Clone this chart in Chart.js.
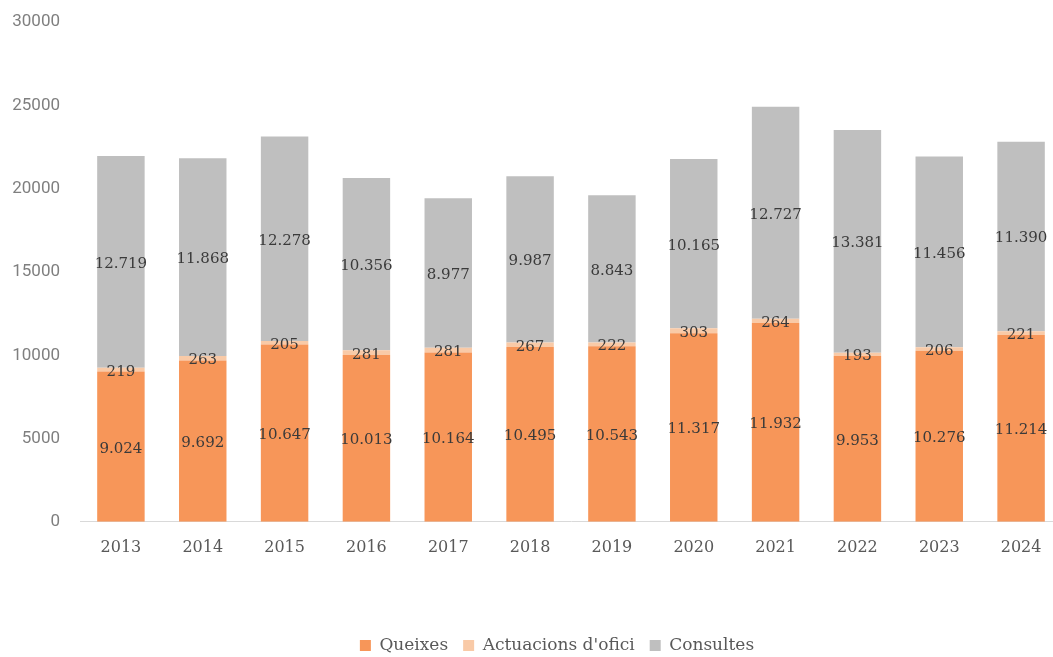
<!DOCTYPE html>
<html>
<head>
<meta charset="utf-8">
<script src="https://cdn.jsdelivr.net/npm/chart.js@4/dist/chart.umd.min.js"></script>
<style>
  html, body { margin: 0; padding: 0; background: #fff; overflow: hidden; }
  #wrap { width: 1062px; height: 665px; margin-top: -8px; }
</style>
</head>
<body>
<div id="wrap"><canvas id="chart"></canvas></div>
<script>
const years = ['2013', '2014', '2015', '2016', '2017', '2018', '2019', '2020', '2021', '2022', '2023', '2024'];
const queixes = [9024, 9692, 10647, 10013, 10164, 10495, 10543, 11317, 11932, 9953, 10276, 11214];
const actuacions = [219, 263, 205, 281, 281, 267, 222, 303, 264, 193, 206, 221];
const consultes = [12719, 11868, 12278, 10356, 8977, 9987, 8843, 10165, 12727, 13381, 11456, 11390];
const yTicks = [0, 5000, 10000, 15000, 20000, 25000, 30000];

const slab = '"DejaVu Serif", serif';

// Catalan style: dot as thousands separator
const fmt = (v) => String(v).replace(/\B(?=(\d{3})+(?!\d))/g, '.');

const labelPlugin = {
  id: 'segLabels',
  afterDatasetsDraw(chart) {
    const ctx = chart.ctx;
    ctx.save();
    ctx.font = '15px ' + slab;
    ctx.fillStyle = '#3a3a3a';
    ctx.textAlign = 'center';
    ctx.textBaseline = 'middle';
    chart.data.datasets.forEach((ds, i) => {
      const meta = chart.getDatasetMeta(i);
      meta.data.forEach((bar, j) => {
        const y = (bar.y + bar.base) / 2;
        ctx.fillText(fmt(ds.data[j]), bar.x, y + 2);
      });
    });
    ctx.restore();
  }
};

// legend sits a bit right of centre and lower in the original
const legendShift = {
  id: 'legendShift',
  afterUpdate(chart) {
    const lg = chart.legend;
    lg.left += 26;
    lg.right += 26;
    lg.top += 9;
    lg.bottom += 9;
  }
};

new Chart('chart', {
  type: 'bar',
  data: {
    labels: years,
    datasets: [
      { label: 'Queixes', data: queixes, backgroundColor: '#F79659' },
      { label: "Actuacions d'ofici", data: actuacions, backgroundColor: '#F9CAA7' },
      { label: 'Consultes', data: consultes, backgroundColor: '#BFBFBF' },
    ],
  },
  options: {
    responsive: true,
    maintainAspectRatio: false,
    animation: false,
    datasets: { bar: { barPercentage: 0.58, categoryPercentage: 1 } },
    layout: { padding: { top: 0, right: 0, left: 0, bottom: 2 } },
    scales: {
      x: {
        stacked: true,
        grid: { display: false, drawTicks: false },
        border: { color: '#d9d9d9', width: 1 },
        ticks: { color: '#595959', font: { family: slab, size: 16 }, padding: 16 },
        afterFit: (s) => { s.height += 40; },
      },
      y: {
        stacked: true,
        min: 0,
        max: 30000,
        afterBuildTicks: (axis) => { axis.ticks = yTicks.map((v) => ({ value: v })); },
        afterFit: (s) => { s.width = 80; },
        grid: { display: false, drawTicks: false },
        border: { display: false },
        ticks: {
          color: '#7f7f7f',
          font: { family: 'Roboto', size: 17 },
          padding: 20,
          callback: (v) => String(v),
        },
      },
    },
    plugins: {
      legend: {
        position: 'bottom',
        labels: {
          boxWidth: 11,
          boxHeight: 11,
          padding: 15,
          color: '#595959',
          font: { family: slab, size: 17 },
        },
      },
      tooltip: { enabled: false },
    },
  },
  plugins: [labelPlugin, legendShift],
});
</script>
</body>
</html>
